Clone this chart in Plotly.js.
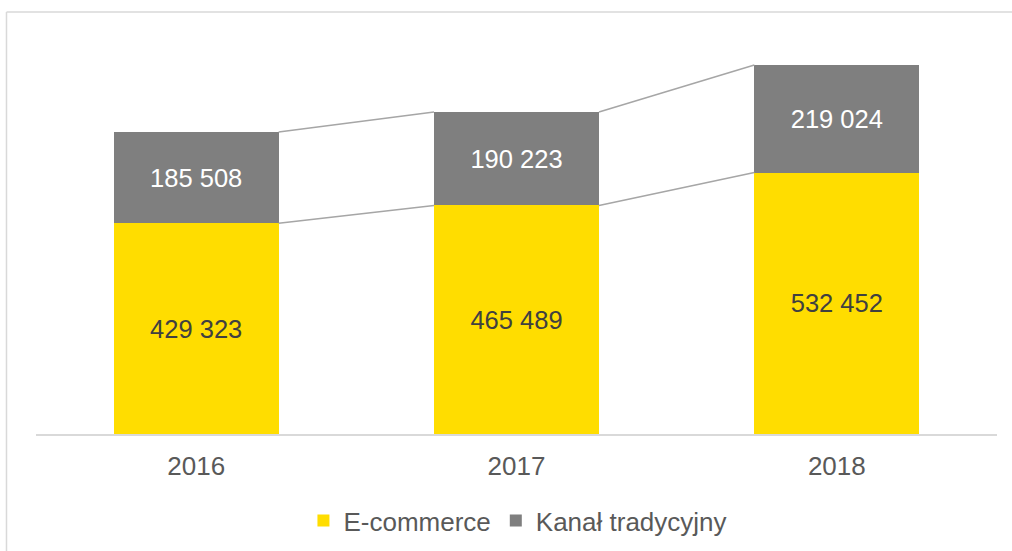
<!DOCTYPE html>
<html>
<head>
<meta charset="utf-8">
<script src="https://cdn.plot.ly/plotly-3.0.1.min.js"></script>
<style>html,body{margin:0;padding:0;background:#fff;}#chart{width:1012px;height:551px;}</style>
</head>
<body>
<div id="chart"></div>
<script>
var years = ['2016', '2017', '2018'];
var ecommerce = [429323, 465489, 532452];
var traditional = [185508, 190223, 219024];
var seriesNames = ['E-commerce', 'Kanał tradycyjny'];

var xIdx = years.map(function (_, i) { return i; });
var bargap = 0.485;
var barW = 1 - bargap;
var totals = ecommerce.map(function (v, i) { return v + traditional[i]; });

var font = 'Liberation Sans, Arial, sans-serif';

var traces = [
  {
    type: 'bar', name: seriesNames[0], x: xIdx, y: ecommerce,
    marker: {color: '#FFDD00', line: {width: 0}},
    texttemplate: '%{y:,.0f}', textposition: 'inside', insidetextanchor: 'middle',
    constraintext: 'none',
    textfont: {family: font, size: 25.5, color: '#404040'},
    hoverinfo: 'skip'
  },
  {
    type: 'bar', name: seriesNames[1], x: xIdx, y: traditional,
    marker: {color: '#7F7F7F', line: {width: 0}},
    texttemplate: '%{y:,.0f}', textposition: 'inside', insidetextanchor: 'middle',
    constraintext: 'none',
    textfont: {family: font, size: 25.5, color: '#FFFFFF'},
    hoverinfo: 'skip'
  }
];

// series lines connecting the stacked segment tops
[ecommerce, totals].forEach(function (arr) {
  for (var i = 0; i < arr.length - 1; i++) {
    traces.push({
      type: 'scatter', mode: 'lines', showlegend: false, hoverinfo: 'skip',
      x: [xIdx[i] + barW / 2, xIdx[i + 1] - barW / 2],
      y: [arr[i], arr[i + 1]],
      line: {color: '#A6A6A6', width: 1.5}
    });
  }
});

var layout = {
  width: 1012, height: 551,
  margin: {l: 36, r: 15, t: 30, b: 117, autoexpand: false},
  barmode: 'stack', bargap: bargap,
  separators: ', ',
  paper_bgcolor: '#FFFFFF', plot_bgcolor: '#FFFFFF',
  font: {family: font, color: '#595959', size: 26},
  xaxis: {
    range: [-0.5, 2.5], tickmode: 'array', tickvals: xIdx, ticktext: years,
    showgrid: false, zeroline: false, showline: true, linecolor: '#D9D9D9', linewidth: 2,
    ticks: '', tickfont: {family: font, size: 26, color: '#595959'},
    ticklabelstandoff: 8, fixedrange: true, automargin: false
  },
  yaxis: {
    range: [0, 822800], visible: false, showgrid: false, zeroline: false, fixedrange: true
  },
  legend: {
    orientation: 'h', x: 0.5015, xanchor: 'center', y: -0.156, yanchor: 'top',
    font: {family: font, size: 26, color: '#595959'},
    traceorder: 'normal', itemwidth: 30
  },
  showlegend: true,
  shapes: [
    {type: 'line', xref: 'paper', yref: 'paper', x0: -0.0307, x1: 1.1, y0: 1.0446, y1: 1.0446,
     line: {color: '#D9D9D9', width: 1.5}},
    {type: 'line', xref: 'paper', yref: 'paper', x0: -0.0307, x1: -0.0307, y0: 1.0446, y1: -0.4,
     line: {color: '#D9D9D9', width: 1.5}}
  ]
};

Plotly.newPlot('chart', traces, layout, {displayModeBar: false, staticPlot: true});
</script>
</body>
</html>
